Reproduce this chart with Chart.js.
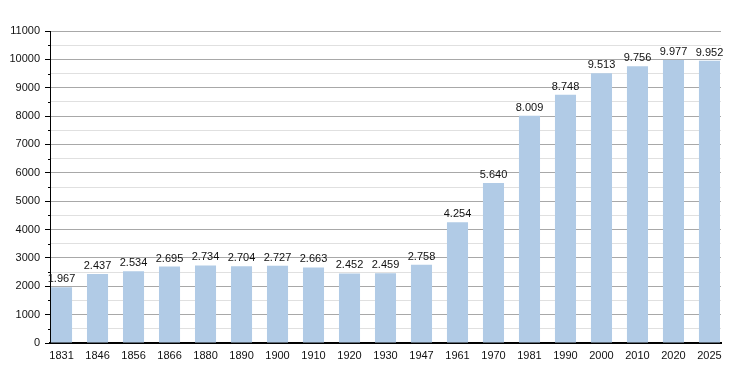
<!DOCTYPE html>
<html>
<head>
<meta charset="utf-8">
<script src="https://cdn.jsdelivr.net/npm/chart.js@4/dist/chart.umd.min.js"></script>
<style>
  html, body { margin: 0; padding: 0; background: #fff; }
  #wrap { width: 750px; height: 373px; position: relative; }
</style>
</head>
<body>
<div id="wrap"><canvas id="c" width="750" height="373"></canvas></div>
<script>
const years = ['1831','1846','1856','1866','1880','1890','1900','1910','1920','1930','1947','1961','1970','1981','1990','2000','2010','2020','2025'];
const population = [1967,2437,2534,2695,2734,2704,2727,2663,2452,2459,2758,4254,5640,8009,8748,9513,9756,9977,9952];
const yTickMax = 11000;
const yStep = 500;

const FONT = '"Liberation Sans", Arial, Helvetica, sans-serif';

function fmt(v) {
  const s = String(Math.round(v));
  return s.length > 3 ? s.slice(0, s.length - 3) + '.' + s.slice(-3) : s;
}

const points = population.map((v, i) => ({ x: i, y: v }));

const labelPlugin = {
  id: 'valueLabels',
  afterDatasetsDraw(chart) {
    const ctx = chart.ctx;
    const meta = chart.getDatasetMeta(0);
    ctx.save();
    ctx.font = '11px ' + FONT;
    ctx.fillStyle = '#111';
    ctx.textAlign = 'center';
    ctx.textBaseline = 'alphabetic';
    meta.data.forEach((bar, i) => {
      ctx.fillText(fmt(population[i]), bar.x, bar.y - 5);
    });
    ctx.restore();
  }
};

const minorTickPlugin = {
  id: 'minorTicks',
  afterDraw(chart) {
    const ys = chart.scales.y;
    const ctx = chart.ctx;
    ctx.save();
    ctx.strokeStyle = '#000';
    ctx.lineWidth = 1;
    ys.ticks.forEach(t => {
      if (t.value % 1000 !== 0) {
        const py = Math.round(ys.getPixelForValue(t.value)) + 0.5;
        ctx.beginPath();
        ctx.moveTo(ys.right - 2, py);
        ctx.lineTo(ys.right, py);
        ctx.stroke();
      }
    });
    ctx.restore();
  }
};

new Chart(document.getElementById('c'), {
  type: 'bar',
  data: {
    datasets: [{
      data: points,
      backgroundColor: '#b1cbe6',
      borderWidth: 0,
      barPercentage: 0.585,
      categoryPercentage: 1.0
    }]
  },
  options: {
    responsive: false,
    animation: false,
    events: [],
    layout: { padding: { left: 0, right: 29, top: 31, bottom: 0 } },
    plugins: {
      legend: { display: false },
      tooltip: { enabled: false },
      title: { display: false }
    },
    scales: {
      x: {
        type: 'linear',
        offset: false,
        min: -0.32,
        max: 18.32,
        afterBuildTicks(scale) {
          scale.ticks = years.map((y, i) => ({ value: i }));
        },
        afterFit(scale) { scale.height = 30; },
        grid: { display: false, drawTicks: false, offset: false },
        border: { display: true, color: '#000', width: 2 },
        ticks: {
          autoSkip: false,
          maxRotation: 0,
          padding: 6,
          color: '#111',
          font: { family: FONT, size: 11 },
          callback: (v) => years[v] ?? ''
        }
      },
      y: {
        min: 0,
        max: yTickMax,
        afterFit(scale) { scale.width = 50; },
        grid: {
          color: (c) => (c.tick && c.tick.value % 1000 === 0) ? '#a8a8a8' : '#e0e0e0',
          tickColor: (c) => (c.tick && c.tick.value % 1000 === 0) ? '#000' : 'rgba(0,0,0,0)',
          tickLength: 5,
          drawTicks: true,
          lineWidth: 1
        },
        border: { display: true, color: '#000', width: 1 },
        ticks: {
          stepSize: yStep,
          autoSkip: false,
          padding: 5,
          color: '#111',
          font: { family: FONT, size: 11 },
          callback: (v) => (v % 1000 === 0) ? String(v) : ''
        }
      }
    }
  },
  plugins: [labelPlugin, minorTickPlugin]
});
</script>
</body>
</html>
